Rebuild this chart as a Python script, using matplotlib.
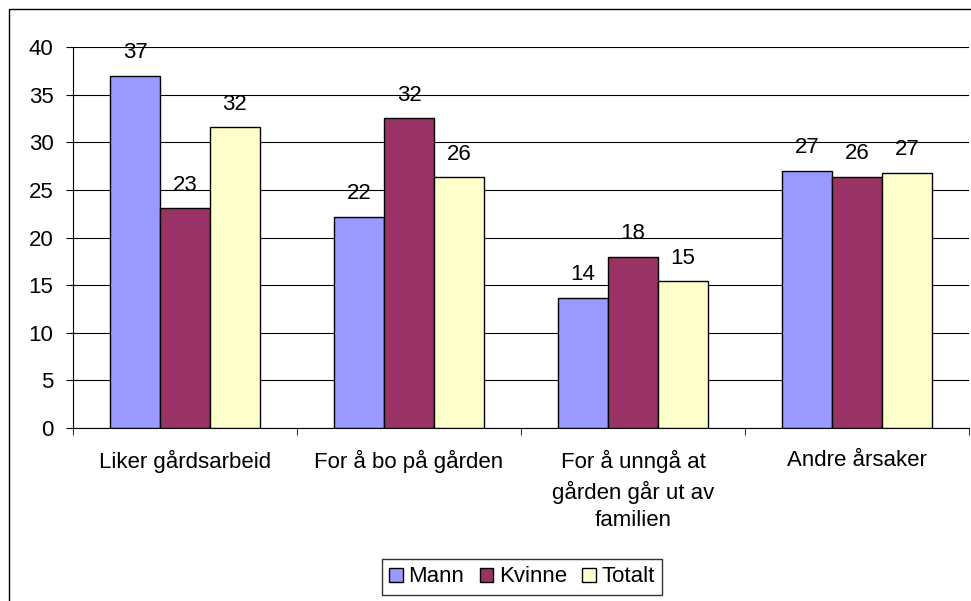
import numpy as np
import matplotlib
matplotlib.use("Agg")
import matplotlib.pyplot as plt
from matplotlib.patches import Patch, Rectangle

categories = ["Liker gårdsarbeid", "For å bo på gården",
              "For å unngå at\ngården går ut av\nfamilien", "Andre årsaker"]
mann = [37.0, 22.2, 13.7, 27.0]
kvinne = [23.1, 32.5, 18.0, 26.4]
totalt = [31.6, 26.3, 15.4, 26.8]
series = ["Mann", "Kvinne", "Totalt"]
colors = ["#9999FF", "#993366", "#FFFFCC"]

plt.rcParams['font.family'] = ['Liberation Sans', 'DejaVu Sans']
plt.rcParams['font.size'] = 16

fig = plt.figure(figsize=(9.71, 6.01), dpi=100)
ax = fig.add_axes([73/971, 1-428/601, 896/971, 381/601])

# outer chart border (cut off on the right and bottom like the original)
fig.patches.append(Rectangle((9/971, -0.1), 1.2, 1-9/601+0.1, transform=fig.transFigure,
                             fill=False, edgecolor="black", linewidth=1, zorder=0))

x = np.arange(len(categories))
w = 0.223
for i, (vals, name, c) in enumerate(zip([mann, kvinne, totalt], series, colors)):
    pos = x + (i - 1) * w
    ax.bar(pos, vals, width=w, color=c, edgecolor="black", linewidth=1, zorder=3, label=name)
    for xp, v in zip(pos, vals):
        ax.text(xp, v + 1.3, f"{v:.0f}", ha="center", va="bottom", fontsize=16, zorder=4)

ax.set_xlim(-0.5, len(categories) - 0.5)
ax.set_ylim(0, 40)
ax.set_yticks(np.arange(0, 41, 5))
ax.yaxis.grid(True, color="black", linewidth=0.8, zorder=0)
ax.set_axisbelow(True)

ax.set_xticks(x)
ax.set_xticklabels(categories, linespacing=1.4)
ax.set_xticks(np.arange(-0.5, len(categories), 1), minor=True)
ax.tick_params(axis="x", which="major", length=0, pad=16)
ax.tick_params(axis="x", which="minor", length=5, color="black", direction="out")
ax.tick_params(axis="y", length=5, direction="out", pad=9)

for s in ["top", "right"]:
    ax.spines[s].set_visible(False)
ax.spines["left"].set_color("black")
ax.spines["bottom"].set_color("black")

handles = [Patch(facecolor=c, edgecolor="black", label=n) for c, n in zip(colors, series)]
leg = fig.legend(handles=handles, loc="center", bbox_to_anchor=(522/971, 1-577/601), ncol=3,
                 frameon=True, fancybox=False, edgecolor="black", fontsize=16,
                 handlelength=0.6, handleheight=0.6, handletextpad=0.25, columnspacing=0.7,
                 borderpad=0.35)
leg.get_frame().set_linewidth(1)

fig.savefig("out.png", dpi=100)
